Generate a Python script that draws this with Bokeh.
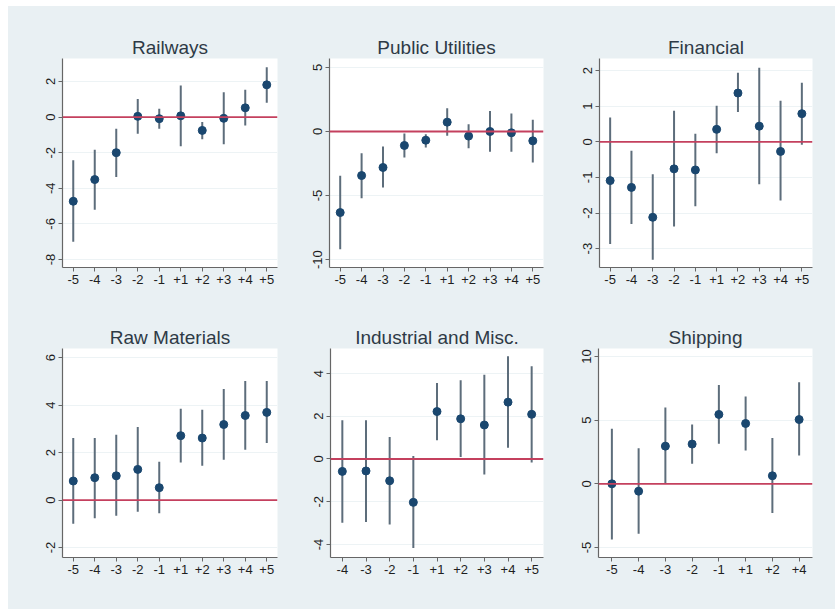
from bokeh.plotting import figure
from bokeh.layouts import column, row
from bokeh.models import FactorRange, Range1d, FixedTicker, Span
from bokeh.embed import file_html
from bokeh.resources import INLINE

# ---------------- data ----------------
titles = ["Railways", "Public Utilities", "Financial",
          "Raw Materials", "Industrial and Misc.", "Shipping"]

cats_10 = ["-5", "-4", "-3", "-2", "-1", "+1", "+2", "+3", "+4", "+5"]
cats_ind = ["-4", "-3", "-2", "-1", "+1", "+2", "+3", "+4", "+5"]
cats_ship = ["-5", "-4", "-3", "-2", "-1", "+1", "+2", "+4"]

rail_est = [-4.73, -3.51, -2.00, 0.04, -0.09, 0.07, -0.75, -0.07, 0.52, 1.81]
rail_lo = [-7.00, -5.20, -3.36, -0.93, -0.65, -1.64, -1.25, -1.53, -0.47, 0.80]
rail_hi = [-2.43, -1.83, -0.65, 1.01, 0.47, 1.78, -0.28, 1.40, 1.53, 2.80]

util_est = [-6.33, -3.44, -2.81, -1.09, -0.68, 0.73, -0.36, 0.00, -0.10, -0.73]
util_lo = [-9.19, -5.21, -4.38, -2.03, -1.25, -0.34, -1.30, -1.59, -1.59, -2.42]
util_hi = [-3.46, -1.69, -1.17, -0.16, -0.21, 1.82, 0.57, 1.61, 1.41, 0.91]

fin_est = [-1.09, -1.28, -2.12, -0.76, -0.79, 0.35, 1.37, 0.44, -0.27, 0.79]
fin_lo = [-2.87, -2.31, -3.31, -2.38, -1.81, -0.32, 0.84, -1.19, -1.65, -0.08]
fin_hi = [0.68, -0.25, -0.91, 0.87, 0.23, 1.01, 1.94, 2.08, 1.15, 1.66]

raw_est = [0.80, 0.94, 1.02, 1.29, 0.52, 2.71, 2.61, 3.18, 3.56, 3.69]
raw_lo = [-1.00, -0.77, -0.66, -0.49, -0.56, 1.58, 1.44, 1.70, 2.12, 2.40]
raw_hi = [2.61, 2.61, 2.75, 3.07, 1.61, 3.84, 3.80, 4.68, 5.01, 5.01]

ind_est = [-0.58, -0.56, -1.02, -2.03, 2.22, 1.88, 1.59, 2.66, 2.09]
ind_lo = [-2.98, -2.95, -3.06, -4.17, 0.88, 0.09, -0.73, 0.52, -0.16]
ind_hi = [1.81, 1.81, 1.03, 0.14, 3.55, 3.69, 3.94, 4.81, 4.34]

ship_est = [0.00, -0.58, 2.96, 3.12, 5.45, 4.74, 0.63, 5.05]
ship_lo = [-4.37, -3.93, 0.00, 1.57, 3.14, 2.62, -2.30, 2.23]
ship_hi = [4.32, 2.80, 5.99, 4.66, 7.77, 6.86, 3.59, 7.98]

rail_yticks = [2, 0, -2, -4, -6, -8]
util_yticks = [5, 0, -5, -10]
fin_yticks = [2, 1, 0, -1, -2, -3]
raw_yticks = [6, 4, 2, 0, -2]
ind_yticks = [4, 2, 0, -2, -4]
ship_yticks = [10, 5, 0, -5]

# ---------------- style ----------------
BG = "#e9f0f3"
MARKER = "#1a476f"
BAR = "#5d6d7b"
REF = "#c4405e"
AXIS = "#666666"
TEXT = "#1e1e1e"
FONT = "Liberation Sans"


def panel(title, cats, est, lo, hi, yticks, ylim, fw, bl, br, bt, bb):
    p = figure(x_range=FactorRange(*cats), y_range=Range1d(*ylim),
               frame_width=fw, frame_height=209,
               min_border_left=bl, min_border_right=br,
               min_border_top=bt, min_border_bottom=bb,
               output_backend="svg", toolbar_location=None,
               background_fill_color="white", border_fill_color=BG,
               outline_line_color=None)
    p.title.text = title
    p.title.align = "center"
    p.title.text_font = FONT
    p.title.text_font_size = "19px"
    p.title.text_font_style = "normal"
    p.title.text_color = "#2e3a46"
    p.title.standoff = 2

    p.xgrid.visible = False
    p.ygrid.ticker = FixedTicker(ticks=yticks)
    p.ygrid.grid_line_color = "#edf3f5"
    p.ygrid.grid_line_width = 1

    p.yaxis.ticker = FixedTicker(ticks=yticks)
    p.yaxis.major_label_overrides = {t: str(t) for t in yticks}
    p.yaxis.major_label_orientation = "vertical"
    p.yaxis.minor_tick_line_color = None
    for ax in (p.xaxis, p.yaxis):
        ax.axis_line_color = AXIS
        ax.axis_line_width = 1.2
        ax.major_tick_line_color = AXIS
        ax.major_tick_in = 0
        ax.major_tick_out = 4
        ax.major_label_standoff = 3
        ax.major_label_text_font = FONT
        ax.major_label_text_font_size = "13px"
        ax.major_label_text_color = TEXT

    p.add_layout(Span(location=0, dimension="width", line_color=REF, line_width=1.8))
    p.segment(x0=cats, y0=lo, x1=cats, y1=hi, line_color=BAR, line_width=2)
    p.scatter(x=cats, y=est, size=8, fill_color=MARKER, line_color=MARKER)
    return p


p1 = panel(titles[0], cats_10, rail_est, rail_lo, rail_hi, rail_yticks, (-8.45, 3.29), 215, 54, 6, 52, 29)
p2 = panel(titles[1], cats_10, util_est, util_lo, util_hi, util_yticks, (-10.62, 5.7), 214, 46, 10, 52, 29)
p3 = panel(titles[2], cats_10, fin_est, fin_lo, fin_hi, fin_yticks, (-3.53, 2.34), 213, 46, 23, 52, 29)
p4 = panel(titles[3], cats_10, raw_est, raw_lo, raw_hi, raw_yticks, (-2.42, 6.38), 215, 54, 6, 52, 52)
p5 = panel(titles[4], cats_ind, ind_est, ind_lo, ind_hi, ind_yticks, (-4.61, 5.17), 213, 47, 10, 52, 52)
p6 = panel(titles[5], cats_ship, ship_est, ship_lo, ship_hi, ship_yticks, (-5.79, 10.63), 214, 45, 23, 52, 52)

bgstyle = {"background-color": BG}
layout = column(row(p1, p2, p3, spacing=0, styles=bgstyle),
                row(p4, p5, p6, spacing=0, styles=bgstyle),
                spacing=0, styles=bgstyle, margin=(6, 0, 0, 8))

open("out.html", "w").write(file_html(layout, INLINE))
